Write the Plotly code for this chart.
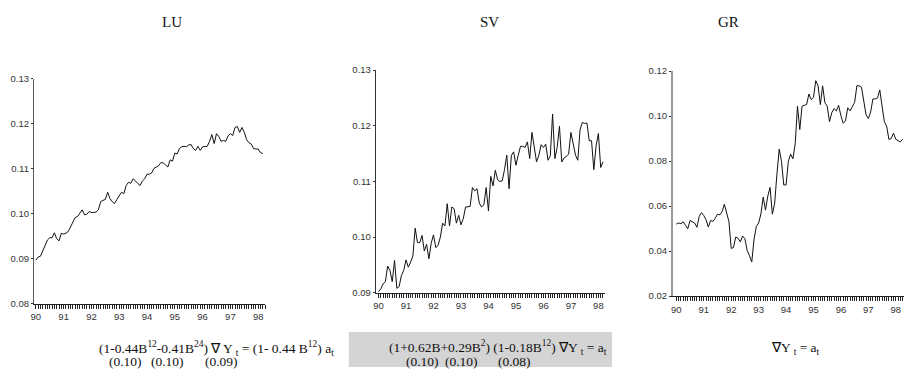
import plotly.graph_objects as go

W, H = 906, 372

lu = [0.0897, 0.0904, 0.0906, 0.0917, 0.0929, 0.0942, 0.0947, 0.0947, 0.0958, 0.0945,
      0.0940, 0.0957, 0.0955, 0.0957, 0.0961, 0.0971, 0.0983, 0.0992, 0.0994, 0.1003,
      0.1009, 0.0998, 0.0999, 0.1005, 0.1003, 0.1003, 0.1004, 0.1009, 0.1027, 0.1030,
      0.1032, 0.1048, 0.1034, 0.1027, 0.1023, 0.1032, 0.1039, 0.1048, 0.1045, 0.1063,
      0.1070, 0.1068, 0.1078, 0.1073, 0.1070, 0.1063, 0.1073, 0.1078, 0.1088, 0.1088,
      0.1091, 0.1101, 0.1104, 0.1107, 0.1114, 0.1113, 0.1109, 0.1104, 0.1120, 0.1117,
      0.1135, 0.1133, 0.1145, 0.1149, 0.1150, 0.1149, 0.1153, 0.1154, 0.1145, 0.1141,
      0.1150, 0.1141, 0.1149, 0.1149, 0.1150, 0.1161, 0.1176, 0.1156, 0.1178, 0.1172,
      0.1161, 0.1163, 0.1161, 0.1173, 0.1178, 0.1174, 0.1192, 0.1194, 0.1181, 0.1192,
      0.1181, 0.1165, 0.1158, 0.1155, 0.1145, 0.1144, 0.1144, 0.1136, 0.1134]

sv = [0.0902, 0.0907, 0.0916, 0.0920, 0.0948, 0.0940, 0.0920, 0.0958, 0.0908, 0.0911,
      0.0931, 0.0940, 0.0959, 0.0946, 0.0955, 0.0966, 0.1016, 0.0990, 0.0990, 0.1003,
      0.0975, 0.0987, 0.0961, 0.0989, 0.1004, 0.0981, 0.0985, 0.1000, 0.1025, 0.1020,
      0.1060, 0.1020, 0.1054, 0.1051, 0.1025, 0.1039, 0.1022, 0.1033, 0.1054, 0.1054,
      0.1055, 0.1089, 0.1083, 0.1087, 0.1061, 0.1054, 0.1058, 0.1089, 0.1047, 0.1109,
      0.1092, 0.1120, 0.1103, 0.1100, 0.1101, 0.1121, 0.1147, 0.1087, 0.1147, 0.1153,
      0.1129, 0.1147, 0.1163, 0.1163, 0.1161, 0.1171, 0.1141, 0.1188, 0.1159, 0.1135,
      0.1147, 0.1166, 0.1161, 0.1167, 0.1138, 0.1146, 0.1221, 0.1141, 0.1161, 0.1199,
      0.1135, 0.1142, 0.1145, 0.1149, 0.1188, 0.1170, 0.1147, 0.1138, 0.1193, 0.1206,
      0.1204, 0.1205, 0.1173, 0.1173, 0.1121, 0.1164, 0.1186, 0.1125, 0.1135]

gr = [0.0520, 0.0525, 0.0522, 0.0530, 0.0515, 0.0499, 0.0536, 0.0532, 0.0525, 0.0506,
      0.0554, 0.0571, 0.0558, 0.0539, 0.0507, 0.0536, 0.0532, 0.0546, 0.0564, 0.0561,
      0.0575, 0.0608, 0.0572, 0.0532, 0.0412, 0.0416, 0.0463, 0.0457, 0.0441, 0.0467,
      0.0455, 0.0402, 0.0380, 0.0352, 0.0453, 0.0510, 0.0525, 0.0565, 0.0640, 0.0582,
      0.0644, 0.0683, 0.0564, 0.0611, 0.0741, 0.0853, 0.0799, 0.0694, 0.0694, 0.0799,
      0.0831, 0.0810, 0.0878, 0.1044, 0.0940, 0.1044, 0.1048, 0.1051, 0.1098, 0.1073,
      0.1083, 0.1157, 0.1134, 0.1051, 0.1134, 0.1059, 0.1044, 0.0975, 0.1015, 0.1033,
      0.1023, 0.1047, 0.1001, 0.0968, 0.0979, 0.1037, 0.1023, 0.1044, 0.1061, 0.1135,
      0.1134, 0.1128, 0.1066, 0.1005, 0.0989, 0.1018, 0.1076, 0.1076, 0.1080, 0.1116,
      0.1044, 0.0975, 0.0955, 0.0896, 0.0900, 0.0924, 0.0897, 0.0891, 0.0885, 0.0897]

titles = ["LU", "SV", "GR"]
start_year = 90


def months(n):
    return [start_year + i / 12 for i in range(n)]


def px_x(p):
    return p / W


def px_y(p):
    return (H - p) / H


panels = [
    # xdomain px, ydomain px (top,bottom), xrange (years), yrange, ytick step, axis colour
    ((31, 263), (75, 307), [89.93, 98.25], [0.08, 0.13], 0.01, "#555555"),
    ((374, 604), (66, 295.5), [89.9, 98.24], [0.09, 0.13], 0.01, "#333333"),
    ((672, 904), (67, 299), [89.87, 98.3], [0.02, 0.12], 0.02, "#9a9a9a"),
]

fig = go.Figure()
series = [lu, sv, gr]
for k, s in enumerate(series):
    sfx = "" if k == 0 else str(k + 1)
    fig.add_trace(go.Scatter(x=months(len(s)), y=s, mode="lines",
                             line=dict(color="#111111", width=1),
                             xaxis="x" + sfx, yaxis="y" + sfx, showlegend=False,
                             hoverinfo="skip"))

tickfont = dict(family="Liberation Sans, Arial, sans-serif", size=9.5, color="#333333")
layout = {}
for k, (xd, yd, xr, yr, st, ac) in enumerate(panels):
    sfx = "" if k == 0 else str(k + 1)
    dom = [px_x(xd[0]), px_x(xd[1])]
    n_months = int((xr[1] - start_year) * 12) + 1
    month_ticks = [start_year + i / 12 for i in range(n_months)]
    layout["xaxis" + sfx] = dict(
        domain=dom, range=xr, anchor="y" + sfx,
        showgrid=False, zeroline=False, showline=True, linecolor="#222222", linewidth=1,
        tickmode="array", tickvals=month_ticks,
        ticktext=[str(int(round(v))) if abs(v - round(v)) < 1e-6 else "" for v in month_ticks],
        ticks="outside", ticklen=4, tickwidth=1, tickcolor="#222222", tickfont=tickfont,
    )
    layout["yaxis" + sfx] = dict(
        domain=[px_y(yd[1]), px_y(yd[0])], range=yr, anchor="x" + sfx,
        showgrid=False, zeroline=False, showline=True, linecolor=ac,
        linewidth=1.5 if k == 2 else 1,
        dtick=st, tick0=yr[0], tickformat=".2f", ticks="outside", ticklen=2,
        tickcolor="#333333", tickfont=tickfont,
    )

serif = "Liberation Serif, Times New Roman, serif"
annotations = []
for name, xc in zip(titles, [170, 488, 728]):
    annotations.append(dict(text=name, x=px_x(xc), y=px_y(17), xref="paper", yref="paper",
                            showarrow=False, font=dict(family=serif, size=15, color="#111111"),
                            xanchor="center", yanchor="middle"))

formulas = [
    ("(1-0.44B<sup>12</sup>-0.41B<sup>24</sup>) ∇ Y <sub>t</sub> = (1- 0.44 B<sup>12</sup>) a<sub>t</sub>", 214, 353),
    ("(1+0.62B+0.29B<sup>2</sup>) (1-0.18B<sup>12</sup>) ∇Y <sub>t</sub> = a<sub>t</sub>", 497, 352),
    ("∇Y <sub>t</sub> = a<sub>t</sub>", 795, 353),
]
for txt, xc, yc in formulas:
    annotations.append(dict(text=txt, x=px_x(xc), y=px_y(yc), xref="paper", yref="paper",
                            showarrow=False, font=dict(family=serif, size=13.5, color="#111111"),
                            xanchor="center", yanchor="middle"))

std_errors = [("(0.10)", 123), ("(0.10)", 165), ("(0.09)", 219),
              ("(0.10)", 421), ("(0.10)", 460), ("(0.08)", 513)]
for txt, xc in std_errors:
    annotations.append(dict(text=txt, x=px_x(xc), y=px_y(366), xref="paper", yref="paper",
                            showarrow=False, font=dict(family=serif, size=13.5, color="#111111"),
                            xanchor="center", yanchor="middle"))

shapes = [dict(type="rect", xref="paper", yref="paper", x0=px_x(347), x1=px_x(611),
               y0=0, y1=px_y(336), fillcolor="#d4d4d4", line=dict(width=0), layer="below")]

fig.update_layout(width=W, height=H, margin=dict(l=0, r=0, t=0, b=0),
                  paper_bgcolor="white", plot_bgcolor="white",
                  annotations=annotations, shapes=shapes, **layout)

fig.write_html("out.html", config={"displayModeBar": False},
               post_script="document.body.style.margin='0';document.body.style.padding='0';")
